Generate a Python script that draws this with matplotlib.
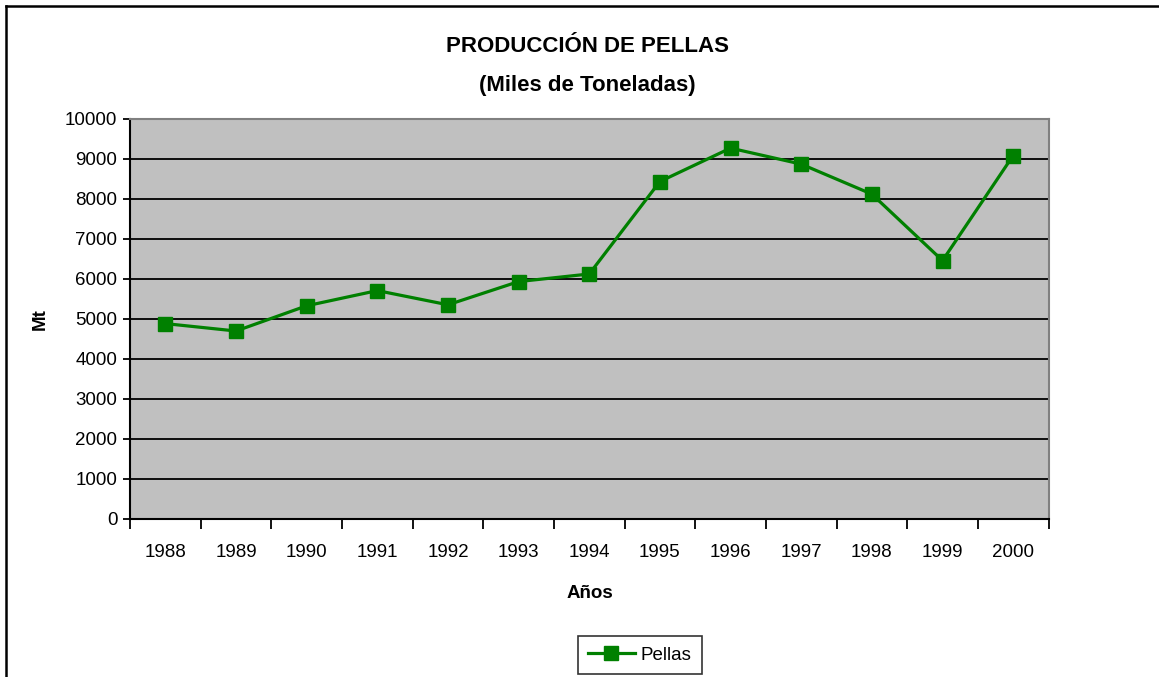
import matplotlib
matplotlib.use("Agg")
import matplotlib.pyplot as plt
from matplotlib.lines import Line2D

years = ["1988", "1989", "1990", "1991", "1992", "1993", "1994",
         "1995", "1996", "1997", "1998", "1999", "2000"]
pellas = [4875, 4690, 5320, 5700, 5345, 5925, 6115,
          8425, 9260, 8860, 8110, 6450, 9075]
yticks = list(range(0, 10001, 1000))

plt.rcParams['font.family'] = ['Liberation Sans', 'DejaVu Sans']

W, H = 1159, 677
fig = plt.figure(figsize=(W / 100, H / 100), dpi=100)
fig.patch.set_facecolor('white')

# outer chart border (left and top visible)
fig.add_artist(Line2D([6 / W, 6 / W], [0, 1 - 6 / H], color='black', lw=1.8,
                      transform=fig.transFigure))
fig.add_artist(Line2D([6 / W, 1], [1 - 6 / H, 1 - 6 / H], color='black', lw=1.8,
                      transform=fig.transFigure))

FS = 13.5
left, right, top, bottom = 130, 1048.5, 118.5, 518.7
ax = fig.add_axes([left / W, 1 - bottom / H, (right - left) / W, (bottom - top) / H])
ax.set_facecolor('#C0C0C0')

x = list(range(len(years)))
ax.plot(x, pellas, color='#008000', lw=2.3, marker='s', markersize=10.5,
        markerfacecolor='#008000', markeredgecolor='#008000', label='Pellas',
        zorder=3)

ax.set_xlim(-0.5, len(years) - 0.5)
ax.set_ylim(0, 10000)
ax.set_yticks(yticks)
ax.set_yticklabels([str(v) for v in yticks], fontsize=FS)
ax.yaxis.grid(True, color='black', lw=1.3)
ax.set_axisbelow(True)

ax.set_xticks([i - 0.5 for i in range(len(years) + 1)])
ax.set_xticklabels([])
ax.set_xticks(x, minor=True)
ax.set_xticklabels(years, minor=True, fontsize=FS)
ax.tick_params(axis='x', which='major', direction='out', length=7, width=1.3, color='black')
ax.tick_params(axis='x', which='minor', length=0, pad=18)
ax.tick_params(axis='y', direction='out', length=5, width=1.3, color='black', pad=4)

for s in ['left', 'bottom']:
    ax.spines[s].set_color('black')
    ax.spines[s].set_linewidth(1.5)
for s in ['top', 'right']:
    ax.spines[s].set_color('#808080')
    ax.spines[s].set_linewidth(1.5)

fig.text(587 / W, 1 - 46 / H, 'PRODUCCIÓN DE PELLAS', ha='center', va='center',
         fontsize=16, fontweight='bold')
fig.text(587 / W, 1 - 85 / H, '(Miles de Toneladas)', ha='center', va='center',
         fontsize=16, fontweight='bold')
fig.text(40 / W, 1 - 319 / H, 'Mt', ha='center', va='center', rotation=90,
         fontsize=FS, fontweight='bold')
fig.text(590 / W, 1 - 593 / H, 'Años', ha='center', va='center',
         fontsize=FS, fontweight='bold')

leg = fig.legend(loc='center', bbox_to_anchor=(639.5 / W, 1 - 655 / H), fontsize=FS,
                 frameon=True, fancybox=False, edgecolor='black', handlelength=2.5,
                 borderpad=0.55, handletextpad=0.3, borderaxespad=0, markerscale=0.9)
leg.get_frame().set_linewidth(1.2)

fig.savefig('out.png', dpi=100)
